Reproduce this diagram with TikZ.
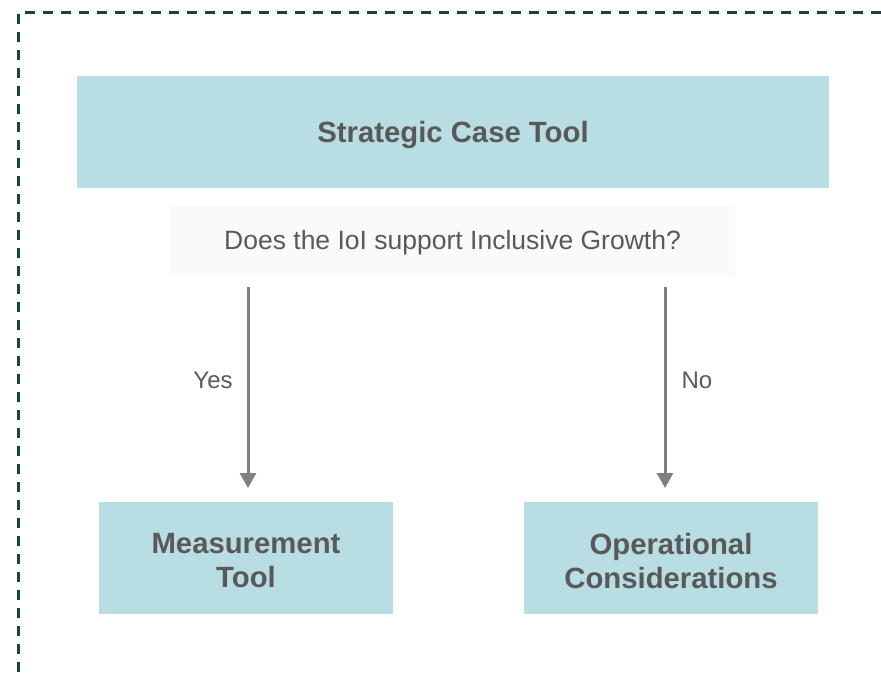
\documentclass[tikz,border=0pt]{standalone}
\usepackage{fontspec}
\setmainfont{Liberation Sans}
\usetikzlibrary{arrows.meta}
\definecolor{boxfill}{HTML}{B8DDE2}
\definecolor{qfill}{HTML}{FAFAFA}
\definecolor{txt}{HTML}{595959}
\definecolor{frame}{HTML}{1F3F4A}
\definecolor{arr}{HTML}{808080}
\tikzset{
  bigbox/.style={fill=boxfill, draw=none, inner sep=0pt},
  bigtext/.style={inner sep=0pt, text=txt, align=center,
    font=\fontsize{29.3}{34}\selectfont\bfseries},
  qbox/.style={fill=qfill, draw=none, inner sep=0pt},
  qtext/.style={inner sep=0pt, text=txt, font=\fontsize{26.5}{30}\selectfont},
  lbl/.style={text=txt, inner sep=0pt, font=\fontsize{24}{28}\selectfont},
  flow/.style={draw=arr, line width=3pt, -{Triangle[width=16pt,length=15pt]}},
}
\begin{document}
\begin{tikzpicture}[x=1pt,y=-1pt]
\useasboundingbox (0,0) rectangle (881,674);
\fill[white] (0,0) rectangle (881,674);
\begin{scope}
\clip (0,0) rectangle (881,674);
\draw[frame, line width=3pt, dash pattern=on 10pt off 8pt] (18,690) -- (18,13) -- (900,13);
\end{scope}
\node[bigbox, minimum width=752pt, minimum height=112pt] (top) at (453,132) {};
\node[bigtext] (toptext) at (453,135) {Strategic Case Tool};
\node[qbox, minimum width=565pt, minimum height=71pt] (q) at (452.5,240.5) {};
\node[qtext] (qtext) at (452.5,243) {Does the IoI support Inclusive Growth?};
\node[bigbox, minimum width=294pt, minimum height=112pt] (meas) at (246,558) {};
\node[bigtext] (meastext) at (246,561) {Measurement\\Tool};
\node[bigbox, minimum width=294pt, minimum height=112pt] (ops) at (671,558) {};
\node[bigtext] (opstext) at (671,561) {Operational\\Considerations};
\coordinate (ys) at (248,287);
\coordinate (ye) at (248,488);
\coordinate (ns) at (665,287);
\coordinate (ne) at (665,488);
\draw[flow] (ys) -- (ye);
\draw[flow] (ns) -- (ne);
\node[lbl] (yes) at (213,380) {Yes};
\node[lbl] (no) at (697,380) {No};
\end{tikzpicture}
\end{document}
